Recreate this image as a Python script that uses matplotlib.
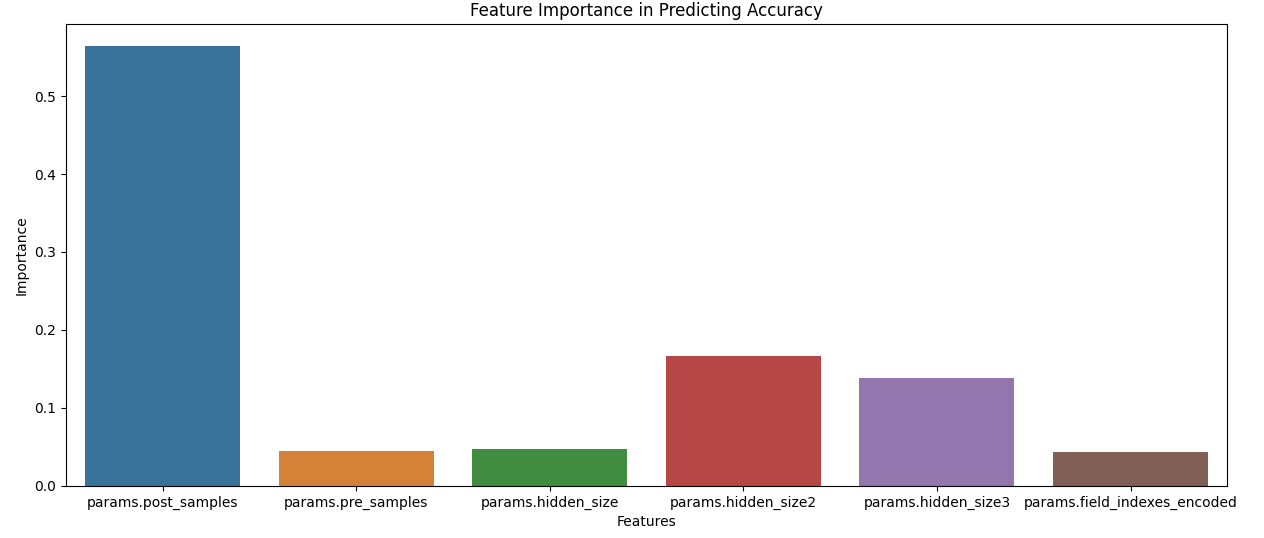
import matplotlib
matplotlib.use("Agg")
import matplotlib.pyplot as plt
import seaborn as sns
import pandas as pd

features = ["params.post_samples", "params.pre_samples", "params.hidden_size",
            "params.hidden_size2", "params.hidden_size3", "params.field_indexes_encoded"]
importance = [0.564, 0.045, 0.047, 0.167, 0.138, 0.044]


def main():
    df = pd.DataFrame({"Features": features, "Importance": importance})
    fig, ax = plt.subplots(figsize=(12.64, 5.38), dpi=100)
    sns.barplot(data=df, x="Features", y="Importance", hue="Features",
                palette="tab10", saturation=0.65, legend=False, ax=ax)
    ax.set_title("Feature Importance in Predicting Accuracy")
    ax.set_xlabel("Features")
    ax.set_ylabel("Importance")
    fig.subplots_adjust(left=0.052, right=0.971, top=0.955, bottom=0.097)
    fig.savefig("out.png", dpi=100)


if __name__ == "__main__":
    main()
